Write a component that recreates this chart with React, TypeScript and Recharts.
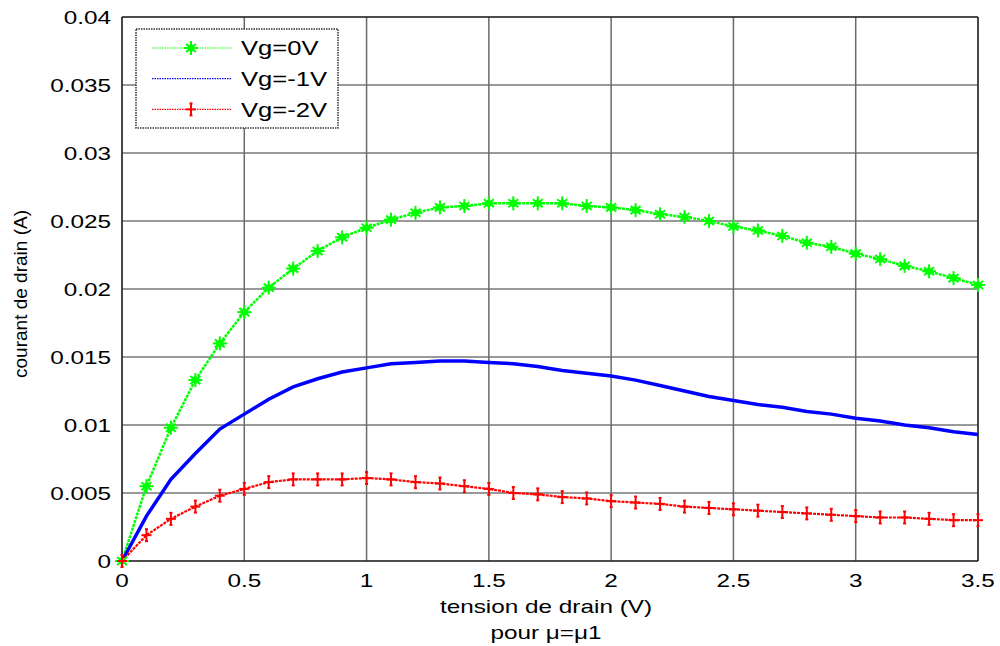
import { LineChart, Line, XAxis, YAxis, CartesianGrid, ReferenceLine } from 'recharts';

// tension de drain (V), pas de 0.1 V
const tension = [
  0, 0.1, 0.2, 0.3, 0.4, 0.5, 0.6, 0.7, 0.8, 0.9, 1.0, 1.1, 1.2, 1.3, 1.4, 1.5, 1.6, 1.7,
  1.8, 1.9, 2.0, 2.1, 2.2, 2.3, 2.4, 2.5, 2.6, 2.7, 2.8, 2.9, 3.0, 3.1, 3.2, 3.3, 3.4, 3.5,
];

const vg0 = [
  0, 0.0055, 0.0098, 0.0133, 0.016, 0.0183, 0.0201, 0.0215, 0.0228, 0.0238, 0.0245, 0.0251,
  0.0256, 0.026, 0.0261, 0.0263, 0.0263, 0.0263, 0.0263, 0.0261, 0.026, 0.0258, 0.0255,
  0.0253, 0.025, 0.0246, 0.0243, 0.0239, 0.0234, 0.0231, 0.0226, 0.0222, 0.0217, 0.0213,
  0.0208, 0.0203,
];

const vgm1 = [
  0, 0.0033, 0.006, 0.0079, 0.0097, 0.0108, 0.0119, 0.0128, 0.0134, 0.0139, 0.0142, 0.0145,
  0.0146, 0.0147, 0.0147, 0.0146, 0.0145, 0.0143, 0.014, 0.0138, 0.0136, 0.0133, 0.0129,
  0.0125, 0.0121, 0.0118, 0.0115, 0.0113, 0.011, 0.0108, 0.0105, 0.0103, 0.01, 0.0098,
  0.0095, 0.0093,
];

const vgm2 = [
  0, 0.0019, 0.0031, 0.004, 0.0048, 0.0053, 0.0058, 0.006, 0.006, 0.006, 0.0061, 0.006,
  0.0058, 0.0057, 0.0055, 0.0053, 0.005, 0.0049, 0.0047, 0.0046, 0.0044, 0.0043, 0.0042,
  0.004, 0.0039, 0.0038, 0.0037, 0.0036, 0.0035, 0.0034, 0.0033, 0.0032, 0.0032, 0.0031,
  0.003, 0.003,
];

const xTicks = [0, 0.5, 1, 1.5, 2, 2.5, 3, 3.5];
const yTicks = [0, 0.005, 0.01, 0.015, 0.02, 0.025, 0.03, 0.035, 0.04];

const legendNames = ['Vg=0V', 'Vg=-1V', 'Vg=-2V'];

const data = tension.map((v, i) => ({ v, g0: vg0[i], g1: vgm1[i], g2: vgm2[i] }));

const FONT = '"Liberation Sans", Arial, sans-serif';
const SX = 1.28; // la figure d'origine est étirée horizontalement

const stretch = (ax: number) => `translate(${ax} 0) scale(${SX} 1) translate(${-ax} 0)`;

const XTick = (p: any) => (
  <text x={p.x} y={587} textAnchor="middle" fontSize={19} fontFamily={FONT} fill="#000" transform={stretch(p.x)}>
    {String(p.payload.value)}
  </text>
);

const YTick = (p: any) => (
  <text x={111} y={p.y + 6.8} textAnchor="end" fontSize={19} fontFamily={FONT} fill="#000" transform={stretch(111)}>
    {String(p.payload.value)}
  </text>
);

function Star({ cx, cy, color }: { cx: number; cy: number; color: string }) {
  return (
    <g stroke={color} strokeWidth={2}>
      <line x1={cx - 7} y1={cy} x2={cx + 7} y2={cy} />
      <line x1={cx} y1={cy - 7} x2={cx} y2={cy + 7} />
      <line x1={cx - 5} y1={cy - 4} x2={cx + 5} y2={cy + 4} />
      <line x1={cx - 5} y1={cy + 4} x2={cx + 5} y2={cy - 4} />
      <polygon points={`${cx - 5},${cy} ${cx},${cy - 4.5} ${cx + 5},${cy} ${cx},${cy + 4.5}`} fill={color} stroke="none" />
    </g>
  );
}

function Plus({ cx, cy, color }: { cx: number; cy: number; color: string }) {
  return (
    <g stroke={color} strokeWidth={2} fill={color}>
      <line x1={cx - 5} y1={cy} x2={cx + 5} y2={cy} />
      <line x1={cx} y1={cy - 6} x2={cx} y2={cy + 6} />
      <rect x={cx - 1.5} y={cy - 7} width={3} height={2} stroke="none" />
      <rect x={cx - 1.5} y={cy + 5} width={3} height={2} stroke="none" />
    </g>
  );
}

export default function App() {
  return (
    <div style={{ position: 'absolute', left: 0, top: 0, width: 1000, height: 646, background: '#fff' }}>
      <LineChart width={1000} height={646} data={data} margin={{ top: 17, right: 22, left: 0, bottom: 0 }}>
        <CartesianGrid vertical={false} stroke="#333" strokeWidth={1} />
        <CartesianGrid horizontal={false} stroke="#6a6a6a" strokeWidth={1.5} />
        <XAxis
          dataKey="v"
          type="number"
          domain={[0, 3.5]}
          ticks={xTicks}
          height={85}
          tickLine={false}
          axisLine={{ stroke: '#000' }}
          tick={XTick}
        />
        <YAxis
          type="number"
          domain={[0, 0.04]}
          ticks={yTicks}
          width={122}
          tickLine={false}
          axisLine={{ stroke: '#000' }}
          tick={YTick}
        />
        <ReferenceLine y={0.04} stroke="#000" />
        <ReferenceLine x={3.5} stroke="#000" />
        <Line
          dataKey="g0"
          stroke="#00ff00"
          strokeWidth={2.5}
          strokeDasharray="3 1"
          isAnimationActive={false}
          activeDot={false}
          dot={(p: any) => <Star key={`g0-${p.index}`} cx={p.cx} cy={p.cy} color="#00ff00" />}
        />
        <Line dataKey="g1" stroke="#0000ff" strokeWidth={3.5} isAnimationActive={false} activeDot={false} dot={false} />
        <Line
          dataKey="g2"
          stroke="#ff0000"
          strokeWidth={2.2}
          strokeDasharray="3 1"
          isAnimationActive={false}
          activeDot={false}
          dot={(p: any) => <Plus key={`g2-${p.index}`} cx={p.cx} cy={p.cy} color="#ff0000" />}
        />
      </LineChart>

      <svg width={1000} height={646} style={{ position: 'absolute', left: 0, top: 0, pointerEvents: 'none' }}>
        <g fontFamily={FONT} fontSize={19} fill="#000">
          <text x={546} y={613} textAnchor="middle" transform={stretch(546)}>
            tension de drain (V)
          </text>
          <text x={546} y={639} textAnchor="middle" transform={stretch(546)}>
            pour μ=μ1
          </text>
          <text x={0} y={0} textAnchor="middle" transform="translate(27 294) rotate(-90)">
            courant de drain (A)
          </text>
        </g>

        <rect x={136} y={29} width={202} height={99} fill="#fff" stroke="#333" strokeWidth={1.5} strokeDasharray="1.5 1" />
        {legendNames.map((name, i) => {
          const y = 48 + i * 30.7;
          const color = ['#00ff00', '#0000ff', '#ff0000'][i];
          return (
            <g key={name}>
              <line x1={152} y1={y} x2={231} y2={y} stroke={color} strokeWidth={1.2} strokeDasharray="1.5 1" />
              {i === 0 && <Star cx={191} cy={y} color={color} />}
              {i === 2 && <Plus cx={191} cy={y} color={color} />}
              <text x={241} y={y + 7.5} fontFamily={FONT} fontSize={20} fill="#000" transform={stretch(241)}>
                {name}
              </text>
            </g>
          );
        })}
      </svg>
    </div>
  );
}
